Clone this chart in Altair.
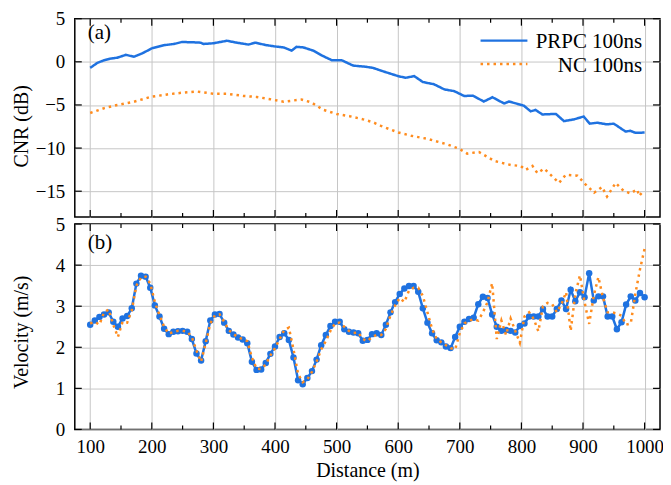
import altair as alt
import pandas as pd
import numpy as np

# ---------------- data ----------------
series = ["PRPC 100ns", "NC  100ns"]
colors = ["#1f72e0", "#ff8c1e"]

# (a) CNR
prpc_cnr_x = [100, 112, 123, 133, 144, 158, 171, 185, 201, 220, 236, 249, 268, 279, 284, 300,
              322, 338, 357, 368, 384, 400, 414, 427, 435, 446, 462, 476, 492, 508, 527, 546,
              559, 572, 600, 612, 626, 640, 658, 675, 691, 707, 721, 739, 753, 772, 780, 804,
              815, 823, 834, 856, 869, 885, 901, 911, 923, 939, 950, 969, 977, 985, 1000]
prpc_cnr = [-0.70, -0.11, 0.19, 0.37, 0.48, 0.81, 0.59, 1.00, 1.59, 1.93, 2.07, 2.30, 2.26, 2.22,
            2.07, 2.15, 2.44, 2.22, 2.00, 2.22, 1.96, 1.78, 1.67, 1.30, 1.74, 1.67, 1.30, 0.74,
            0.19, 0.19, -0.44, -0.56, -0.70, -1.02, -1.66, -1.85, -1.66, -2.34, -2.60, -3.20,
            -3.40, -3.96, -3.92, -4.60, -4.11, -4.83, -4.60, -5.09, -5.74, -5.58, -6.10, -6.04,
            -6.87, -6.68, -6.34, -7.17, -7.06, -7.25, -7.17, -8.08, -8.00, -8.23, -8.20]

nc_cnr_x = [100, 123, 144, 171, 198, 225, 252, 273, 300, 322, 349, 370, 392, 414, 430, 443,
            459, 478, 500, 521, 543, 559, 572, 600, 621, 648, 680, 699, 712, 731, 756, 783,
            799, 807, 818, 826, 837, 850, 861, 872, 891, 904, 918, 931, 939, 953, 966, 977,
            988, 991, 998]
nc_cnr = [-5.93, -5.37, -5.00, -4.63, -4.07, -3.78, -3.56, -3.44, -3.70, -3.70, -3.96, -4.07,
          -4.33, -4.63, -4.48, -4.37, -4.70, -5.56, -6.04, -6.30, -6.67, -7.00, -7.43, -8.19,
          -8.57, -8.94, -9.58, -10.08, -10.64, -10.45, -11.50, -11.96, -12.08, -12.53, -12.08,
          -12.90, -12.38, -13.28, -14.04, -13.10, -13.20, -14.20, -15.17, -14.50, -15.62,
          -14.04, -14.98, -15.25, -14.80, -15.55, -14.98]

# (b) velocity, range gates every 7.5 m from 100 m to 1000 m
vel_x = np.arange(100, 1000.01, 7.5)
prpc_vel = [2.55, 2.65, 2.74, 2.80, 2.85, 2.62, 2.50, 2.70, 2.76, 2.95,
            3.55, 3.74, 3.72, 3.45, 3.02, 2.75, 2.45, 2.32, 2.38, 2.39,
            2.40, 2.38, 2.20, 1.85, 1.68, 2.15, 2.65, 2.80, 2.81, 2.60,
            2.40, 2.31, 2.24, 2.19, 2.10, 1.65, 1.45, 1.46, 1.62, 1.84,
            2.02, 2.25, 2.34, 2.18, 1.75, 1.20, 1.10, 1.25, 1.42, 1.70,
            2.05, 2.30, 2.52, 2.62, 2.62, 2.44, 2.38, 2.36, 2.34, 2.16,
            2.18, 2.32, 2.34, 2.30, 2.55, 2.85, 3.10, 3.30, 3.43, 3.49,
            3.49, 3.35, 2.95, 2.60, 2.34, 2.17, 2.12, 2.02, 1.98, 2.25,
            2.50, 2.62, 2.69, 2.72, 3.05, 3.23, 3.20, 2.80, 2.50, 2.40,
            2.42, 2.40, 2.36, 2.52, 2.58, 2.75, 2.75, 2.75, 2.93, 2.75,
            2.75, 2.93, 3.14, 2.93, 3.40, 3.12, 3.34, 3.22, 3.80, 3.14,
            3.24, 3.24, 2.75, 2.75, 2.44, 2.61, 3.04, 3.24, 3.14, 3.32,
            3.22]
nc_vel = [2.58, 2.62, 2.55, 2.85, 2.92, 2.55, 2.25, 2.62, 2.60, 2.90,
          3.50, 3.70, 3.72, 3.55, 3.10, 2.78, 2.50, 2.33, 2.37, 2.40,
          2.40, 2.38, 2.25, 1.92, 1.65, 2.10, 2.58, 2.78, 2.80, 2.62,
          2.42, 2.32, 2.25, 2.20, 2.15, 1.75, 1.48, 1.47, 1.58, 1.80,
          1.98, 2.20, 2.42, 2.48, 1.95, 1.35, 1.15, 1.22, 1.40, 1.65,
          1.95, 2.15, 2.40, 2.58, 2.60, 2.50, 2.40, 2.35, 2.36, 2.20,
          2.15, 2.25, 2.30, 2.30, 2.45, 2.78, 3.02, 3.20, 3.10, 3.38,
          3.45, 3.45, 3.25, 2.85, 2.45, 2.20, 2.12, 2.05, 1.98, 1.95,
          2.35, 2.58, 2.65, 2.68, 2.65, 2.85, 3.10, 3.56, 2.20, 2.65,
          2.30, 2.70, 2.40, 2.11, 2.75, 2.85, 2.69, 2.39, 3.00, 3.08,
          3.05, 2.85, 3.05, 3.34, 2.40, 3.30, 3.75, 3.10, 2.57, 3.26,
          3.71, 3.20, 2.85, 2.85, 2.82, 2.77, 2.55, 2.58, 3.30, 3.90,
          4.40]

x_major = [100, 200, 300, 400, 500, 600, 700, 800, 900, 1000]
x_minor = [150, 250, 350, 450, 550, 650, 750, 850, 950]
cnr_ticks = [5, 0, -5, -10, -15]
vel_ticks = [0, 1, 2, 3, 4, 5]
panel_labels = ["(a)", "(b)"]

# ---------------- layout ----------------
W, H1, H2 = 587, 199, 206
FONT = "Liberation Serif"
xscale = alt.Scale(domain=[75, 1025], nice=False, zero=False)
ya_scale = alt.Scale(domain=[-18, 5], nice=False, zero=False)
yb_scale = alt.Scale(domain=[0, 5], nice=False, zero=False)
cscale = alt.Scale(domain=series, range=colors)
dscale = alt.Scale(domain=series, range=[[1, 0], [2.5, 4]])
MINUS = "replace(datum.label, '-', '\u2212')"

ax_xa = alt.Axis(values=x_major, grid=True, labels=False, ticks=False, domain=False, title="")
ax_ya = alt.Axis(values=cnr_ticks, grid=True, ticks=False, domain=False,
                 labelPadding=10, labelExpr=MINUS, title="CNR (dB)",
                 titleX=-53, titleY=H1 / 2 + 8, titleAngle=-90,
                 titleAlign="center", titleBaseline="middle")
ax_xb = alt.Axis(values=x_major, grid=True, ticks=False, domain=False, format="d",
                 labelPadding=8, title="Distance (m)", titlePadding=4)
ax_yb = alt.Axis(values=vel_ticks, grid=True, ticks=False, domain=False,
                 labelPadding=10, title="Velocity (m/s)",
                 titleX=-53, titleY=H2 / 2 + 5, titleAngle=-90,
                 titleAlign="center", titleBaseline="middle")

Xa = alt.X("dist:Q", scale=xscale, axis=ax_xa)
Ya = alt.Y("val:Q", scale=ya_scale, axis=ax_ya)
Xb = alt.X("dist:Q", scale=xscale, axis=ax_xb)
Yb = alt.Y("val:Q", scale=yb_scale, axis=ax_yb)


def tick_layers(X, Y, yvals, H):
    maj = pd.DataFrame({"dist": x_major})
    mnr = pd.DataFrame({"dist": x_minor})
    yt = pd.DataFrame({"val": yvals})
    r = dict(color="black", strokeWidth=1.2)
    return [
        alt.Chart(maj).mark_rule(**r).encode(x=X, y=alt.value(H), y2=alt.value(H - 7)),
        alt.Chart(maj).mark_rule(**r).encode(x=X, y=alt.value(0), y2=alt.value(7)),
        alt.Chart(mnr).mark_rule(**r).encode(x=X, y=alt.value(H), y2=alt.value(H - 4)),
        alt.Chart(mnr).mark_rule(**r).encode(x=X, y=alt.value(0), y2=alt.value(4)),
        alt.Chart(yt).mark_rule(**r).encode(y=Y, x=alt.value(0), x2=alt.value(7)),
        alt.Chart(yt).mark_rule(**r).encode(y=Y, x=alt.value(W), x2=alt.value(W - 7)),
    ]


# ----- panel (a)
df_a = pd.concat([
    pd.DataFrame({"dist": prpc_cnr_x, "val": prpc_cnr, "series": series[0]}),
    pd.DataFrame({"dist": nc_cnr_x, "val": nc_cnr, "series": series[1]}),
])
lines_a = alt.Chart(df_a).mark_line(strokeWidth=2.5, strokeCap="butt").encode(
    x=Xa, y=Ya,
    color=alt.Color("series:N", scale=cscale, legend=None),
    strokeDash=alt.StrokeDash("series:N", scale=dscale, legend=None),
)

leg_df = pd.DataFrame({"s": series})
leg_lines = [
    alt.Chart(leg_df.iloc[[0]]).mark_rule(color=colors[0], strokeWidth=2.5).encode(
        x=alt.value(407), x2=alt.value(454), y=alt.value(22)),
    alt.Chart(leg_df.iloc[[1]]).mark_rule(color=colors[1], strokeWidth=2.5,
                                          strokeDash=[2.5, 4]).encode(
        x=alt.value(407), x2=alt.value(454), y=alt.value(45.5)),
]
leg_text = [
    alt.Chart(leg_df.iloc[[0]]).mark_text(align="right", baseline="alphabetic", font=FONT,
                                          fontSize=21, color="black").encode(
        text="s:N", x=alt.value(569), y=alt.value(29.5)),
    alt.Chart(leg_df.iloc[[1]]).mark_text(align="right", baseline="alphabetic", font=FONT,
                                          fontSize=21, color="black").encode(
        text="s:N", x=alt.value(569), y=alt.value(53)),
]
lab_a = alt.Chart(pd.DataFrame({"t": panel_labels[:1]})).mark_text(
    align="left", baseline="alphabetic", font=FONT, fontSize=21, color="black").encode(
    text="t:N", x=alt.value(13), y=alt.value(20))

panel_a = alt.layer(lines_a, *tick_layers(Xa, Ya, cnr_ticks, H1), *leg_lines, *leg_text,
                    lab_a).properties(width=W, height=H1)

# ----- panel (b)
prpc_b = pd.DataFrame({"dist": vel_x, "val": prpc_vel})
nc_b = pd.DataFrame({"dist": vel_x, "val": nc_vel})
line_b1 = alt.Chart(prpc_b).mark_line(strokeWidth=2.5, color=colors[0]).encode(x=Xb, y=Yb)
pts_b1 = alt.Chart(prpc_b).mark_circle(size=42, color=colors[0], opacity=1).encode(x=Xb, y=Yb)
line_b2 = alt.Chart(nc_b).mark_line(strokeWidth=2.5, color=colors[1], strokeDash=[2.5, 4],
                                    strokeCap="butt").encode(x=Xb, y=Yb)
lab_b = alt.Chart(pd.DataFrame({"t": panel_labels[1:]})).mark_text(
    align="left", baseline="alphabetic", font=FONT, fontSize=21, color="black").encode(
    text="t:N", x=alt.value(13), y=alt.value(25.5))

panel_b = alt.layer(line_b1, pts_b1, line_b2, *tick_layers(Xb, Yb, vel_ticks, H2),
                    lab_b).properties(width=W, height=H2)

chart = alt.vconcat(panel_a, panel_b, spacing=7, bounds="flush").properties(
    padding={"left": 3, "top": 0, "right": -2, "bottom": 0}
).configure_view(
    stroke="black", strokeWidth=1.5
).configure_axis(
    labelFont=FONT, labelFontSize=19, labelColor="black",
    titleFont=FONT, titleFontSize=20, titleFontWeight="normal", titleColor="black",
    gridColor="#c6c6c6", gridWidth=1, gridOpacity=1
)

chart.save("out.html", embed_options={"renderer": "svg", "actions": False})
